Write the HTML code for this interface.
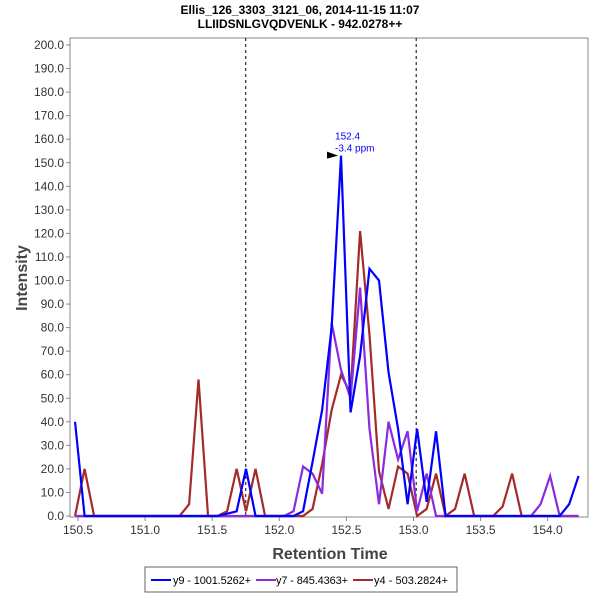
<!DOCTYPE html>
<html><head><meta charset="utf-8"><style>
body{margin:0;background:#fff;font-family:"Liberation Sans",sans-serif}
svg text{font-family:"Liberation Sans",sans-serif}
</style></head><body>
<svg id="chart" width="600" height="600">
<text x="300" y="14" text-anchor="middle" font-size="12" font-weight="bold">Ellis_126_3303_3121_06, 2014-11-15 11:07</text>
<text x="300" y="28" text-anchor="middle" font-size="12" font-weight="bold">LLIIDSNLGVQDVENLK - 942.0278++</text>
<rect x="70" y="38" width="518" height="479" fill="none" stroke="#888"/>
<g id="yaxis"></g><g id="xaxis"></g><g id="series"></g>
<text x="330" y="559" text-anchor="middle" font-size="16" font-weight="bold" fill="#444">Retention Time</text>
<text transform="translate(27,278) rotate(-90)" text-anchor="middle" font-size="16" font-weight="bold" fill="#444">Intensity</text>
<g>
<rect x="145" y="567" width="312" height="25" fill="#fff" stroke="#666"/>
<line x1="151" y1="580" x2="171" y2="580" stroke="#0000ff" stroke-width="2"/>
<text x="173" y="584" font-size="11" textLength="78">y9 - 1001.5262+</text>
<line x1="256" y1="580" x2="276" y2="580" stroke="#8a2be2" stroke-width="2"/>
<text x="276" y="584" font-size="11" textLength="72">y7 - 845.4363+</text>
<line x1="353" y1="580" x2="373" y2="580" stroke="#a52a2a" stroke-width="2"/>
<text x="374" y="584" font-size="11" textLength="74">y4 - 503.2824+</text>
</g>
</svg>
<script>
const times=[150.478,150.549,150.620,150.690,150.761,150.832,150.903,150.974,151.044,151.115,151.186,151.257,151.328,151.398,151.469,151.540,151.611,151.682,151.752,151.823,151.894,151.965,152.036,152.106,152.177,152.248,152.319,152.390,152.460,152.531,152.602,152.672,152.743,152.814,152.885,152.956,153.027,153.098,153.168,153.239,153.310,153.381,153.452,153.522,153.593,153.664,153.735,153.806,153.876,153.947,154.018,154.089,154.160,154.230];
const y9=[40,0,0,0,0,0,0,0,0,0,0,0,0,0,0,0,1,2,20,0,0,0,0,0,2,23,45,80,153,44,68,105,100,61,37,5,37,6,36,0,0,0,0,0,0,0,0,0,0,0,0,0,5,17];
const y7=[0,0,0,0,0,0,0,0,0,0,0,0,0,0,0,0,0,0,0,0,0,0,0,2,21,18,9.5,82,62,50,97,37,5,40,24,36,2,18,0,0,0,0,0,0,0,0,0,0,0,5,17,0,0,0];
const y4=[0,20,0,0,0,0,0,0,0,0,0,0,5,58,0,0,2,20,2,20,0,0,0,0,0,3,22,45,60,52,121,77,19,3,21,18,0,3,18,0,3,18,0,0,0,4,18,0,0,0,0,0,0,0];
const yTicks=[0,10,20,30,40,50,60,70,80,90,100,110,120,130,140,150,160,170,180,190,200];
const xTicks=[150.5,151.0,151.5,152.0,152.5,153.0,153.5,154.0];
const markers=[151.75,153.02];
const NS="http://www.w3.org/2000/svg";
const X=t=>78+(t-150.5)*134.2;
const Y=v=>516-v*2.355;
function mk(tag,attrs,parent,text){const e=document.createElementNS(NS,tag);for(const k in attrs)e.setAttribute(k,attrs[k]);if(text!==undefined)e.textContent=text;parent.appendChild(e);return e;}
const ya=document.getElementById('yaxis'),xa=document.getElementById('xaxis'),sg=document.getElementById('series');
yTicks.forEach(v=>{mk('line',{x1:66,x2:70,y1:Y(v),y2:Y(v),stroke:'#888'},ya);
const t=mk('text',{x:64,y:Y(v)+4,'text-anchor':'end','font-size':12,fill:'#333'},ya,v.toFixed(1));

});
xTicks.forEach(v=>{mk('line',{x1:X(v),x2:X(v),y1:517,y2:521,stroke:'#888'},xa);
const t=mk('text',{x:X(v),y:534,'text-anchor':'middle','font-size':12,fill:'#333'},xa,v.toFixed(1));

});
markers.forEach(m=>{const l=mk('line',{x1:X(m),x2:X(m),y1:38,y2:516,stroke:'#000','stroke-dasharray':'3,3'},sg);

});
[[y4,'#a52a2a','series-y4'],[y7,'#8a2be2','series-y7'],[y9,'#0000ff','series-y9']].forEach(([d,c,n])=>{
const p=mk('polyline',{points:d.map((v,i)=>X(times[i])+','+Y(v)).join(' '),fill:'none',stroke:c,'stroke-width':2.2,'stroke-linejoin':'miter'},sg);

});
let pi=0;y9.forEach((v,i)=>{if(v>y9[pi])pi=i;});
const px=X(times[pi]),py=Y(y9[pi]);
const a=mk('polygon',{points:`${px-14},${py-4} ${px-3},${py} ${px-14},${py+3}`,fill:'#000'},sg);


const l1=mk('text',{x:px-6,y:py-16,'font-size':10,fill:'#0000ff'},sg,'152.4');


const l2=mk('text',{x:px-6,y:py-4,'font-size':10,fill:'#0000ff'},sg,'-3.4 ppm');


</script>
</body></html>
